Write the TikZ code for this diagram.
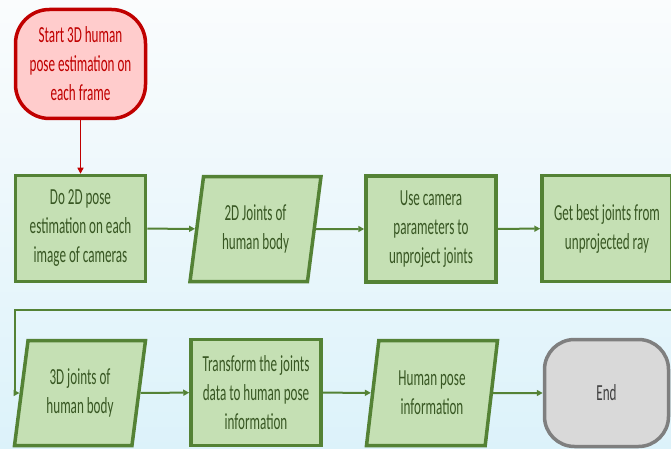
\documentclass[tikz,border=0pt]{standalone}
\usepackage{fontspec}
\setmainfont{Carlito}[FakeStretch=0.57]
\usetikzlibrary{arrows.meta,shapes.geometric}
\definecolor{grnline}{HTML}{548235}
\definecolor{grnfill}{HTML}{C5E0B4}
\definecolor{grntext}{HTML}{385723}
\definecolor{redline}{HTML}{C00000}
\definecolor{redfill}{HTML}{FFCCCC}
\definecolor{gryline}{HTML}{7F7F7F}
\definecolor{gryfill}{HTML}{D9D9D9}
\definecolor{bgtop}{HTML}{FAFCFD}
\definecolor{bgbot}{HTML}{DCF2FA}

\begin{document}
\begin{tikzpicture}[x=1pt,y=-1pt,>={Triangle[length=6pt,width=6pt]},font=\fontsize{23}{29}\selectfont,
  procbox/.style={draw=grnline,line width=3.5pt,fill=grnfill,text=grntext,align=center,minimum width=130pt,minimum height=106pt,inner sep=2pt},
  databox/.style={trapezium,trapezium left angle=75,trapezium right angle=105,trapezium stretches body,draw=grnline,line width=3.5pt,fill=grnfill,text=grntext,align=center,minimum width=131pt,minimum height=105pt,inner sep=1pt},
  flow/.style={->,draw=grnline,line width=2pt}]
\useasboundingbox(0,0)rectangle(671,449);
\fill[top color=bgtop,bottom color=bgbot](0,0)rectangle(671,449);
% first row
\node[draw=redline,line width=3.5pt,fill=redfill,text=redline,rounded corners=34pt,align=center,minimum width=130pt,minimum height=109pt](start)at(80.5,64){Start 3D human\\pose estimation on\\each frame};
\node[procbox](do2d)at(80.5,228.5){Do 2D pose\\estimation on each\\image of cameras};
\node[databox](joints2d)at(255.5,229){2D Joints of\\human body};
\node[procbox](usecam)at(431,229){Use camera\\parameters to\\unproject joints};
\node[procbox](getbest)at(607,228.5){Get best joints from\\unprojected ray};
% second row
\node[databox](joints3d)at(80,393){3D joints of\\human body};
\node[procbox](transform)at(256,392.5){Transform the joints\\data to human pose\\information};
\node[databox](humanpose)at(432,393){Human pose\\information};
\node[draw=gryline,line width=3.5pt,fill=gryfill,text=black!75,rounded corners=30pt,minimum width=124pt,minimum height=107pt](end)at(606.5,393){End};
% connectors
\draw[->,redline,line width=1.5pt](start)--(do2d);
\draw[flow](do2d)--(joints2d);\draw[flow](joints2d)--(usecam);\draw[flow](usecam)--(getbest);
\coordinate(loop)at(15,310);
\draw[flow](getbest.east)--++(8,0)|-(loop)|-(joints3d.west);
\draw[flow](joints3d)--(transform);\draw[flow](transform)--(humanpose);\draw[flow](humanpose)--(end);
\end{tikzpicture}
\end{document}
